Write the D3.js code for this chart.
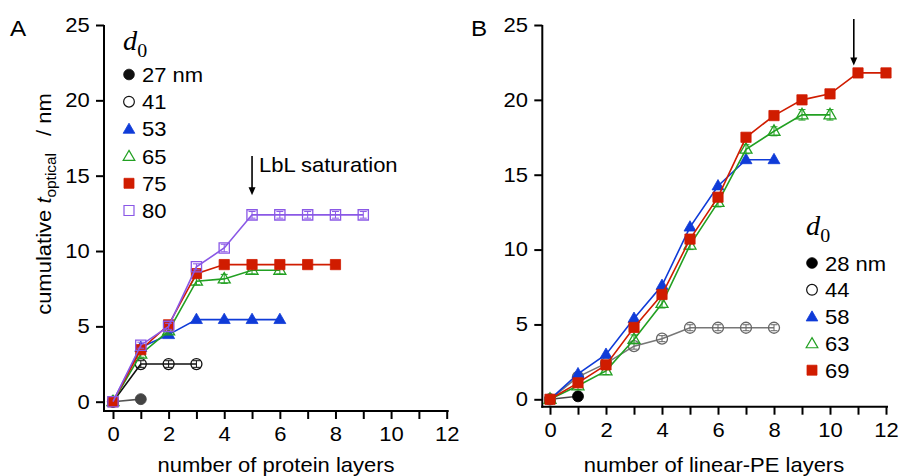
<!DOCTYPE html>
<html><head><meta charset="utf-8">
<script src="https://cdn.jsdelivr.net/npm/d3@7"></script>
<style>
html,body{margin:0;padding:0;background:#fff;}
text{font-family:"Liberation Sans",Arial,sans-serif;}
</style></head>
<body><svg id="c" width="899" height="476"></svg>
<script>
// ---------- DATA ----------
const layersA = [0,1,2,3,4,5,6,7,8,9];
const labelsA = ["27 nm","41","53","65","75","80"];
const a27 = [0, 0.17];
const a41 = [0, 2.5, 2.5, 2.5];
const a53 = [0, 3.6, 4.45, 5.45, 5.45, 5.45, 5.45];
const a65 = [0, 3.15, 4.7, 8.0, 8.15, 8.72, 8.72];
const a75 = [0, 3.45, 5.1, 8.5, 9.1, 9.1, 9.1, 9.1, 9.1];
const a80 = [0, 3.75, 5.0, 8.95, 10.2, 12.4, 12.4, 12.4, 12.4, 12.4];
const a41err = [0, 0.22, 0.22, 0.22];
const a65err = [0, 0.2, 0.2, 0.25, 0.3, 0.25, 0.25];
const a80err = [0, 0.2, 0.2, 0.2, 0.25, 0.22, 0.22, 0.22, 0.22, 0.22];

const layersB = [0,1,2,3,4,5,6,7,8,9,10,11,12];
const labelsB = ["28 nm","44","58","63","69"];
const b28 = [0, 0.2];
const b44 = [0, 1.5, 2.4, 3.55, 4.05, 4.78, 4.78, 4.78, 4.78];
const b58 = [0, 1.7, 3.0, 5.4, 7.6, 11.5, 14.25, 16.0, 16.0];
const b63 = [0, 0.9, 1.9, 4.0, 6.4, 10.3, 13.15, 16.7, 17.9, 19.0, 19.0];
const b69 = [0, 1.1, 2.3, 4.8, 7.0, 10.7, 13.5, 17.5, 18.95, 20.0, 20.4, 21.8, 21.8];
const b44err = [0, 0.2, 0.2, 0.2, 0.2, 0.2, 0.2, 0.2, 0.2];
const b63err = [0, 0.25, 0.25, 0.3, 0.3, 0.3, 0.3, 0.3, 0.3, 0.35, 0.35];

const xTicks = [0,1,2,3,4,5,6,7,8,9,10,11,12];
const xTickLabels = ["0","","2","","4","","6","","8","","10","","12"];
const yTicks = [0,5,10,15,20,25];

// ---------- DRAW ----------
const svg = d3.select("#c");
const SX = 1.1;
const BLUE="#0f3bd8", GREEN="#22a022", RED="#d01c00", PURPLE="#8a58e6";

function txt(g, x, y, s, size, anchor, opts={}) {
  const t = g.append("text")
    .attr("transform", `translate(${x},${y}) scale(${SX},1)`)
    .attr("font-size", size).attr("text-anchor", anchor||"start").attr("fill","#000");
  if (opts.family) t.style("font-family", opts.family);
  if (opts.italic) t.attr("font-style","italic");
  t.text(s);
  return t;
}

function symPath(type, size) {
  const map = {circle:d3.symbolCircle, square:d3.symbolSquare, triangle:d3.symbolTriangle};
  return d3.symbol().type(map[type]).size(size)();
}
const SIZES = {circle:95, square:105, triangle:62};

function panel(cfg) {
  const g = svg.append("g");
  const x = d3.scaleLinear().domain([0,12]).range(cfg.xr);
  const y = d3.scaleLinear().domain([0,25]).range(cfg.yr);
  // axes lines
  g.append("line").attr("x1",cfg.ax).attr("x2",cfg.ax).attr("y1",y(25)).attr("y2",cfg.ay+1)
    .attr("stroke","#000").attr("stroke-width",2);
  g.append("line").attr("x1",cfg.ax-1).attr("x2",x(12)+2).attr("y1",cfg.ay).attr("y2",cfg.ay)
    .attr("stroke","#000").attr("stroke-width",2);
  // x axis ticks
  const xa = d3.axisBottom(x).tickValues(xTicks).tickSize(8).tickSizeOuter(0).tickPadding(8)
    .tickFormat((d,i)=>xTickLabels[i]);
  const gx = g.append("g").attr("transform",`translate(0,${cfg.ay})`).call(xa);
  gx.select(".domain").remove();
  gx.selectAll(".tick line").attr("stroke","#000").attr("stroke-width",2);
  gx.selectAll(".tick text").attr("font-size",20).attr("fill","#000")
    .style("font-family","Liberation Sans, Arial, sans-serif")
    .attr("transform",`scale(${SX},1)`);
  // y axis ticks
  const ya = d3.axisLeft(y).tickValues(yTicks).tickSize(8).tickSizeOuter(0).tickPadding(5).tickFormat(d3.format("d"));
  const gy = g.append("g").attr("transform",`translate(${cfg.ax},0)`).call(ya);
  gy.select(".domain").remove();
  gy.selectAll(".tick line").attr("stroke","#000").attr("stroke-width",2);
  gy.selectAll(".tick text").attr("font-size",20).attr("fill","#000")
    .style("font-family","Liberation Sans, Arial, sans-serif")
    .attr("transform",`scale(${SX},1)`);

  // series
  cfg.series.forEach(s => {
    const pts = s.vals.map((v,i)=>({x:cfg.layers[i], y:v, e:s.err?s.err[i]:0}));
    g.append("path").datum(pts)
      .attr("d", d3.line().x(d=>x(d.x)).y(d=>y(d.y)))
      .attr("fill","none").attr("stroke",s.line).attr("stroke-width",1.6);
    const m = g.append("g");
    m.selectAll("path").data(pts).join("path")
      .attr("d", symPath(s.shape, SIZES[s.shape]))
      .attr("transform", d=>`translate(${x(d.x)},${y(d.y)+(s.shape==="triangle"?0.5:0)})`)
      .attr("fill", s.filled ? s.color : "#fff")
      .attr("fill-opacity", s.filled ? 1 : 0.0)
      .attr("stroke", s.color).attr("stroke-width", s.filled?0.8:1.3);
    if (s.err) {
      pts.filter(d=>d.e>0).forEach(d=>{
        const cx=x(d.x), y1=y(d.y+d.e), y2=y(d.y-d.e);
        m.append("line").attr("x1",cx).attr("x2",cx).attr("y1",y1).attr("y2",y2)
          .attr("stroke",s.color).attr("stroke-width",1);
        [y1,y2].forEach(yy=>m.append("line").attr("x1",cx-3.5).attr("x2",cx+3.5).attr("y1",yy).attr("y2",yy)
          .attr("stroke",s.color).attr("stroke-width",1));
      });
    }
  });

  // legend
  const L = cfg.legend;
  const dt = g.append("text").attr("transform",`translate(${L.x-6},${L.dy}) scale(1.05,1)`)
    .style("font-family","Liberation Serif, Times New Roman, serif").attr("font-size",27).attr("font-style","italic");
  dt.append("tspan").text("d");
  dt.append("tspan").attr("font-style","normal").attr("font-size",19).attr("dy",7).text("0");
  cfg.series.forEach((s,i)=>{
    const yy = L.y0 + i*L.step;
    g.append("path").attr("d", symPath(s.shape, SIZES[s.shape]*0.95))
      .attr("transform",`translate(${L.x},${yy+(s.shape==="triangle"?1:0)})`)
      .attr("fill", s.filled ? s.legColor||s.color : "#fff")
      .attr("stroke", s.legColor||s.color).attr("stroke-width", s.filled?0.8:1.2);
    txt(g, L.x+13, yy+7.5, cfg.labels[i], 20, "start");
  });
  return {g,x,y};
}

const A = panel({
  xr:[113,446.7], yr:[401.7,25], ax:104, ay:411, layers:layersA, labels:labelsA,
  legend:{x:129, y0:74.5, step:27.2, dy:50},
  series:[
    {vals:a80, err:a80err, shape:"square", filled:false, color:PURPLE, line:PURPLE},
    {vals:a75, shape:"square", filled:true, color:RED, line:RED},
    {vals:a65, err:a65err, shape:"triangle", filled:false, color:GREEN, line:GREEN},
    {vals:a53, shape:"triangle", filled:true, color:BLUE, line:BLUE},
    {vals:a41, err:a41err, shape:"circle", filled:false, color:"#111", line:"#111"},
    {vals:a27, shape:"circle", filled:true, color:"#444", line:"#555", legColor:"#111"}
  ].reverse()
});
const B = panel({
  xr:[550,886], yr:[399.3,25], ax:542.3, ay:406.7, layers:layersB, labels:labelsB,
  legend:{x:812, y0:263, step:26.8, dy:235},
  series:[
    {vals:b69, shape:"square", filled:true, color:RED, line:RED},
    {vals:b63, err:b63err, shape:"triangle", filled:false, color:GREEN, line:GREEN},
    {vals:b58, shape:"triangle", filled:true, color:BLUE, line:BLUE},
    {vals:b44, err:b44err, shape:"circle", filled:false, color:"#666", line:"#777", legColor:"#111"},
    {vals:b28, shape:"circle", filled:true, color:"#000", line:"#444"}
  ].reverse()
});

// panel letters
txt(svg, 10, 36, "A", 22, "start");
txt(svg, 471, 36, "B", 22, "start");

// y label (panel A)
const yl = svg.append("text").attr("transform","translate(51,204) rotate(-90) scale(1.1,1)")
  .attr("text-anchor","middle").attr("font-size",20);
yl.append("tspan").text("cumulative ");
yl.append("tspan").attr("font-style","italic").text("t");
yl.append("tspan").attr("font-size",14).attr("dy",5).text("optical");
yl.append("tspan").attr("dy",-5).text("\u2002 / nm");

// x labels
txt(svg, 276, 472, "number of protein layers", 20, "middle");
txt(svg, 714, 472, "number of linear-PE layers", 20, "middle");

// annotations
function arrow(x, y1, y2) {
  svg.append("line").attr("x1",x).attr("x2",x).attr("y1",y1).attr("y2",y2-6)
    .attr("stroke","#000").attr("stroke-width",1.6);
  svg.append("path").attr("d",`M${x-3.5},${y2-8} L${x+3.5},${y2-8} L${x},${y2} Z`).attr("fill","#000");
}
arrow(A.x(5), A.y(16.3), A.y(13.7));
txt(svg, A.x(5)+7, 172, "LbL saturation", 20, "start");
arrow(B.x(10.85), B.y(25.4), B.y(22.3));
</script></body></html>
